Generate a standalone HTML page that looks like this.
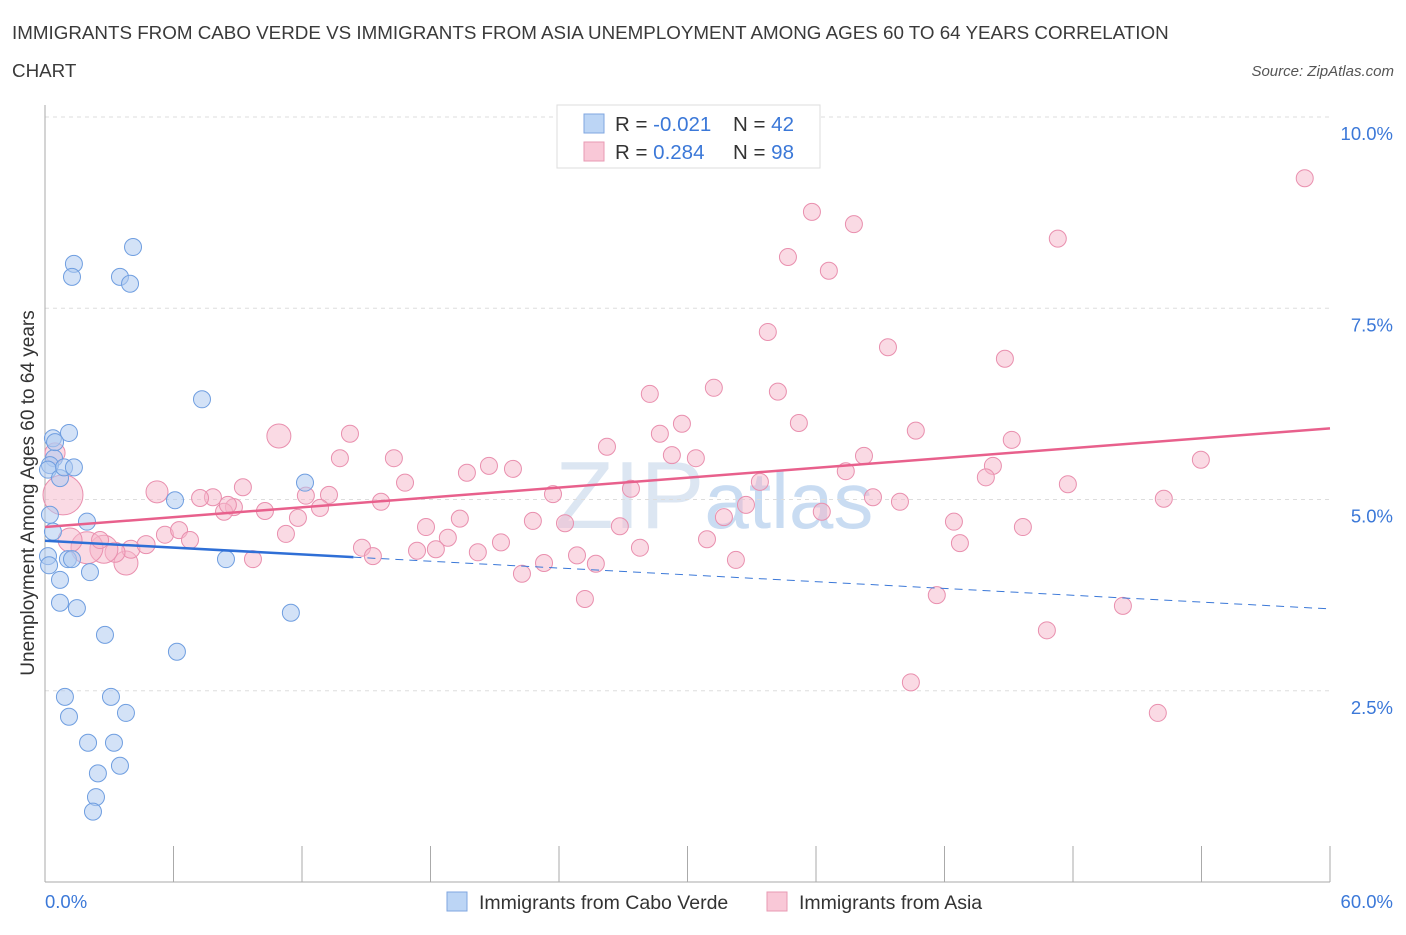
<!DOCTYPE html>
<html><head><meta charset="utf-8"><style>
body{margin:0;background:#fff;font-family:"Liberation Sans",sans-serif;}
svg text{font-family:"Liberation Sans",sans-serif;}
</style></head><body>
<svg id="chart" width="1406" height="930" xmlns="http://www.w3.org/2000/svg">
<text x="12" y="39" font-size="18.8" fill="#3a3a3a">IMMIGRANTS FROM CABO VERDE VS IMMIGRANTS FROM ASIA UNEMPLOYMENT AMONG AGES 60 TO 64 YEARS CORRELATION</text>
<text x="12" y="77" font-size="18.8" fill="#3a3a3a">CHART</text>
<text x="1394" y="76" font-size="15" fill="#555" font-style="italic" text-anchor="end">Source: ZipAtlas.com</text>
<text x="555" y="528" font-size="96" fill="#dce6f2" font-family="Liberation Serif">ZIP<tspan font-family="Liberation Sans" font-size="80" fill="#c9dcf2">atlas</tspan></text>
<g id="grid"></g>
<g id="axes"></g>
<g id="marks"></g>
<text transform="translate(34,493) rotate(-90)" font-size="19" fill="#333" text-anchor="middle">Unemployment Among Ages 60 to 64 years</text>
<g>
<rect x="557" y="105" width="263" height="63" fill="#fff" stroke="#ddd"/>
<rect x="584" y="114" width="20" height="19" fill="#bcd5f5" stroke="#7fa6e0"/>
<rect x="584" y="142" width="20" height="19" fill="#f9c8d7" stroke="#e89ab3"/>
<text x="615" y="131" font-size="20.5" fill="#333">R = <tspan fill="#3b78d8">-0.021</tspan></text>
<text x="733" y="131" font-size="20.5" fill="#333">N = <tspan fill="#3b78d8">42</tspan></text>
<text x="615" y="159" font-size="20.5" fill="#333">R = <tspan fill="#3b78d8"> 0.284</tspan></text>
<text x="733" y="159" font-size="20.5" fill="#333">N = <tspan fill="#3b78d8">98</tspan></text>
</g>
<g>
<rect x="447" y="892" width="20" height="19" fill="#bcd5f5" stroke="#7fa6e0"/>
<text x="479" y="909" font-size="19.5" fill="#333">Immigrants from Cabo Verde</text>
<rect x="767" y="892" width="20" height="19" fill="#f9c8d7" stroke="#e89ab3"/>
<text x="799" y="909" font-size="19.5" fill="#333">Immigrants from Asia</text>
</g>
</svg>
<script>
const yTicks=[2.5,5.0,7.5,10.0];
const yTickLabels=["2.5%","5.0%","7.5%","10.0%"];
const xTicks=[0,6,12,18,24,30,36,42,48,54,60];
const blueX=[0.37,0.42,0.23,0.14,0.70,0.89,1.35,1.12,0.47,1.35,1.26,3.50,3.97,4.11,7.33,6.07,12.14,0.23,0.37,1.96,0.14,0.19,1.07,1.26,2.10,0.70,0.70,1.49,2.80,6.16,11.48,8.45,0.93,3.08,1.12,3.78,2.01,3.22,2.47,3.50,2.38,2.24];
const blueY=[5.80,5.54,5.45,5.39,5.28,5.42,5.42,5.87,5.75,8.08,7.91,7.91,7.82,8.30,6.31,4.99,5.22,4.80,4.58,4.71,4.26,4.14,4.22,4.22,4.05,3.95,3.65,3.58,3.23,3.01,3.52,4.22,2.42,2.42,2.16,2.21,1.82,1.82,1.42,1.52,1.11,0.92];
const pinkX=[58.82,35.81,37.77,47.29,34.69,36.60,33.75,39.36,44.82,31.23,34.22,28.24,29.74,35.20,40.66,28.71,45.14,10.92,14.24,26.24,13.77,16.29,38.24,29.27,30.39,53.97,44.26,20.73,21.85,19.70,37.39,43.93,16.81,47.76,33.38,12.18,13.26,7.84,7.24,9.24,15.69,27.36,23.72,52.24,38.66,39.92,32.73,10.27,8.82,12.84,8.36,11.81,36.27,31.70,19.37,22.78,24.28,42.44,45.66,17.79,26.84,11.25,5.60,6.26,18.81,6.77,21.29,30.91,42.72,14.80,17.37,18.25,20.21,24.84,27.78,15.31,9.71,32.26,23.30,25.72,22.27,3.78,4.01,4.72,3.27,2.75,1.96,1.17,0.84,5.23,0.47,41.64,50.33,25.21,46.78,40.43,51.96,8.54,2.57];
const pinkY=[9.20,8.76,8.60,8.41,8.17,7.99,7.19,6.99,6.84,6.46,6.41,6.38,5.99,6.00,5.90,5.86,5.78,5.83,5.86,5.69,5.54,5.54,5.57,5.58,5.54,5.52,5.44,5.44,5.40,5.35,5.37,5.29,5.22,5.20,5.23,5.05,5.06,5.03,5.02,5.16,4.97,5.14,5.07,5.01,5.03,4.97,4.93,4.85,4.90,4.89,4.84,4.76,4.84,4.77,4.75,4.72,4.69,4.71,4.64,4.64,4.65,4.55,4.54,4.60,4.50,4.47,4.44,4.48,4.43,4.37,4.33,4.35,4.31,4.27,4.37,4.26,4.22,4.21,4.17,4.16,4.03,4.17,4.35,4.41,4.31,4.35,4.37,4.47,5.06,5.10,5.61,3.75,3.61,3.70,3.29,2.61,2.21,4.93,4.47];
const pinkBig={81:12,82:9,83:9,84:10,85:14,86:16,87:12,88:20,89:11,90:10,17:12};
const blueTrend=[4.46,3.57];
const pinkTrend=[4.64,5.93];
const blueSolidEnd=14.4;

const NS="http://www.w3.org/2000/svg";
const X0=45,X1=1330,Y0=882;
const xs=v=>X0+(v/60)*(X1-X0);
const ys=v=>Y0-v*76.5;
function mk(tag,attrs,parent){const e=document.createElementNS(NS,tag);for(const k in attrs)e.setAttribute(k,attrs[k]);parent.appendChild(e);return e;}
const grid=document.getElementById('grid'),axes=document.getElementById('axes'),marks=document.getElementById('marks');
yTicks.forEach((t,i)=>{
  const l=mk('line',{x1:X0,x2:X1,y1:ys(t),y2:ys(t),stroke:'#ddd','stroke-dasharray':'4,4'},grid);
  
  
  const tx=mk('text',{x:1393,y:ys(t)+23,'font-size':18.5,fill:'#3b78d8','text-anchor':'end'},axes);
  tx.textContent=yTickLabels[i];
  
  
});
const ya=mk('line',{x1:X0,x2:X0,y1:105,y2:Y0,stroke:'#aaa'},axes);


const xa=mk('line',{x1:X0,x2:X1,y1:Y0,y2:Y0,stroke:'#aaa'},axes);


xTicks.forEach(t=>{
  const l=mk('line',{x1:xs(t),x2:xs(t),y1:Y0-36,y2:Y0,stroke:'#aaa'},axes);
  
  
});
const xl0=mk('text',{x:45,y:908,'font-size':18.5,fill:'#3b78d8'},axes);xl0.textContent='0.0%';


const xl1=mk('text',{x:1393,y:908,'font-size':18.5,fill:'#3b78d8','text-anchor':'end'},axes);xl1.textContent='60.0%';



pinkX.forEach((v,i)=>{
  const c=mk('circle',{cx:xs(v),cy:ys(pinkY[i]),r:pinkBig[i]||8.5,fill:'#f6b6ca','fill-opacity':0.5,stroke:'#e98fae','stroke-width':1},marks);
  
  
});
blueX.forEach((v,i)=>{
  const c=mk('circle',{cx:xs(v),cy:ys(blueY[i]),r:8.5,fill:'#aecbf0','fill-opacity':0.55,stroke:'#6f9ee0','stroke-width':1},marks);
  
  
});
const bAt=x=>blueTrend[0]+(blueTrend[1]-blueTrend[0])*x/60;
const bd=mk('line',{x1:xs(blueSolidEnd),y1:ys(bAt(blueSolidEnd)),x2:xs(60),y2:ys(bAt(60)),stroke:'#3b78d8','stroke-width':1,'stroke-dasharray':'8,6'},marks);


const bs=mk('line',{x1:xs(0),y1:ys(bAt(0)),x2:xs(blueSolidEnd),y2:ys(bAt(blueSolidEnd)),stroke:'#2f6fd6','stroke-width':2.5},marks);


const ps=mk('line',{x1:xs(0),y1:ys(pinkTrend[0]),x2:xs(60),y2:ys(pinkTrend[1]),stroke:'#e8608c','stroke-width':2.5},marks);


</script>
</body></html>
